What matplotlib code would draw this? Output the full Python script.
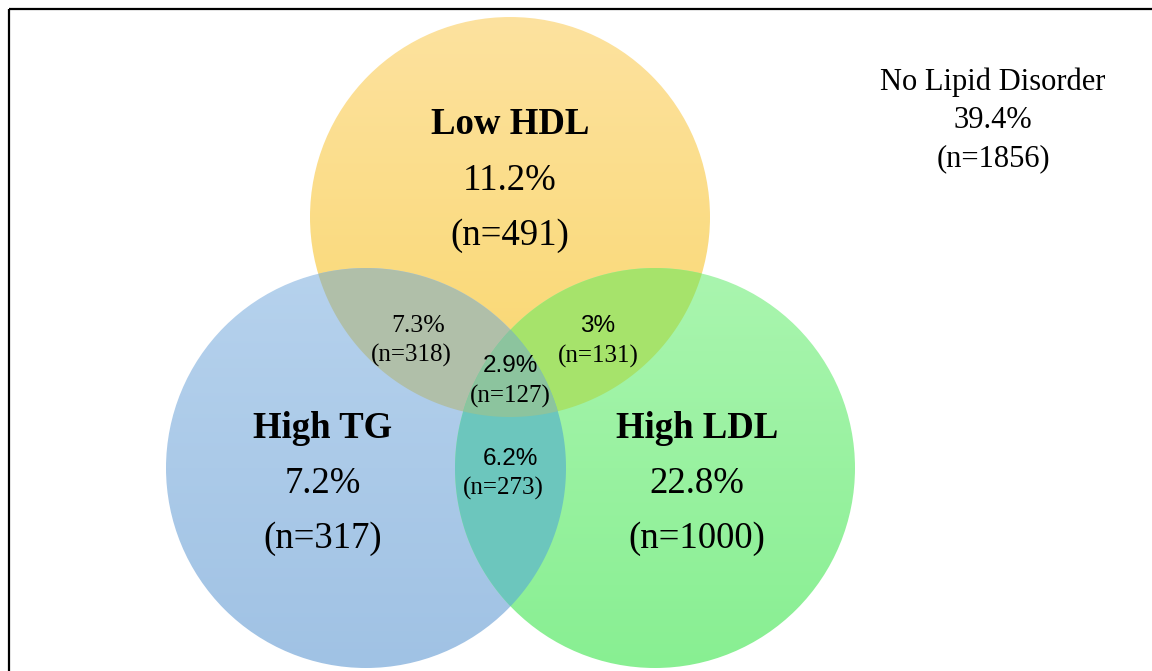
import numpy as np
import matplotlib
matplotlib.use('Agg')
import matplotlib.pyplot as plt
from matplotlib.patches import Circle, Polygon, Rectangle
from matplotlib.colors import to_rgb

# counts / shares
set_names = ['Low HDL', 'High TG', 'High LDL']
set_pct = ['11.2%', '7.2%', '22.8%']
set_n = [491, 317, 1000]

pair_sets = [(0, 1), (0, 2), (1, 2)]
pair_pct = ['7.3%', '3%', '6.2%']
pair_n = [318, 131, 273]

triple_pct = '2.9%'
triple_n = 127

none_label = 'No Lipid Disorder'
none_pct = '39.4%'
none_n = 1856

# layout (pixel space, y down)
centers = [(510, 217), (366, 468), (655, 468)]
R = 200
circle_cols = [('#FDE29F', '#F9D76E'), ('#B6D2ED', '#A0C2E4'), ('#AAF5AF', '#88EF92')]
pair_cols = ['#B0BFA9', '#A6E36B', '#6CC6BD']
triple_col = '#8CC49E'

SERIF = 'Liberation Serif'
SANS = 'Liberation Sans'

fig = plt.figure(figsize=(11.52, 6.71), dpi=100)
ax = fig.add_axes([0, 0, 1, 1])
ax.set_xlim(0, 1152)
ax.set_ylim(671, 0)
ax.axis('off')


def grad_fill(patch, top, bottom, y0, y1, x0, x1, z):
    ax.add_patch(patch)
    c0 = np.array(to_rgb(top))
    c1 = np.array(to_rgb(bottom))
    t = np.linspace(0, 1, 256)[:, None]
    img = (c0 * (1 - t) + c1 * t)[:, None, :]
    im = ax.imshow(img, extent=(x0, x1, y1, y0), aspect='auto', zorder=z,
                   interpolation='bilinear')
    im.set_clip_path(patch)


def inside(p, idx):
    cx, cy = centers[idx]
    return (p[0] - cx) ** 2 + (p[1] - cy) ** 2 <= R ** 2 + 1e-6


def overlap_poly(ids):
    # intersection of discs is convex -> boundary points sorted by angle
    pts = []
    th = np.linspace(0, 2 * np.pi, 2000)
    for i in ids:
        cx, cy = centers[i]
        for a in th:
            p = (cx + R * np.cos(a), cy + R * np.sin(a))
            if all(inside(p, j) for j in ids if j != i):
                pts.append(p)
    pts = np.array(pts)
    m = pts.mean(axis=0)
    order = np.argsort(np.arctan2(pts[:, 1] - m[1], pts[:, 0] - m[0]))
    return pts[order]


# base circles with a light top-to-bottom gradient
for (cx, cy), (ctop, cbot) in zip(centers, circle_cols):
    circ = Circle((cx, cy), R, facecolor='none', edgecolor='none', zorder=1)
    grad_fill(circ, ctop, cbot, cy - R, cy + R, cx - R, cx + R, 1)

# pairwise overlaps
for (a, b), col in zip(pair_sets, pair_cols):
    ax.add_patch(Polygon(overlap_poly([a, b]), closed=True, facecolor=col,
                         edgecolor='none', zorder=2))
ax.add_patch(Polygon(overlap_poly([0, 1, 2]), closed=True, facecolor=triple_col,
                     edgecolor='none', zorder=3))

# frame (runs off right / bottom edge like the original screenshot)
ax.add_patch(Rectangle((9, 9), 1200, 700, facecolor='none', edgecolor='black',
                       linewidth=1.6, zorder=5))

# main set labels
set_xy = [(510, 125), (323, 428), (697, 428)]
for (x, y), name, pct, n in zip(set_xy, set_names, set_pct, set_n):
    ax.text(x, y, name, ha='center', va='center', fontsize=26.5, fontweight='bold',
            family=SERIF, zorder=6)
    ax.text(x, y + 56, pct, ha='center', va='center', fontsize=26.5, family=SERIF, zorder=6)
    ax.text(x, y + 111, f'(n={n})', ha='center', va='center', fontsize=26.5,
            family=SERIF, zorder=6)

# pair labels
pair_xy = [(418, 326), (598, 326), (510, 459)]
pair_n_xy = [(411, 355), (598, 356), (503, 488)]
pair_fonts = [SERIF, SANS, SANS]
for (x, y), (nx, ny), pct, n, fam in zip(pair_xy, pair_n_xy, pair_pct, pair_n, pair_fonts):
    ax.text(x, y, pct, ha='center', va='center', fontsize=18.5 if fam == SERIF else 17.5,
            family=fam, zorder=6)
    ax.text(nx, ny, f'(n={n})', ha='center', va='center', fontsize=18, family=SERIF, zorder=6)

ax.text(510, 366, triple_pct, ha='center', va='center', fontsize=17.5, family=SANS, zorder=6)
ax.text(510, 396, f'(n={triple_n})', ha='center', va='center', fontsize=18,
        family=SERIF, zorder=6)

# outside the circles
ax.text(993, 82, none_label, ha='center', va='center', fontsize=22, family=SERIF)
ax.text(993, 121, none_pct, ha='center', va='center', fontsize=22, family=SERIF)
ax.text(993, 159, f'(n={none_n})', ha='center', va='center', fontsize=22, family=SERIF)

fig.savefig('out.png', dpi=100)
